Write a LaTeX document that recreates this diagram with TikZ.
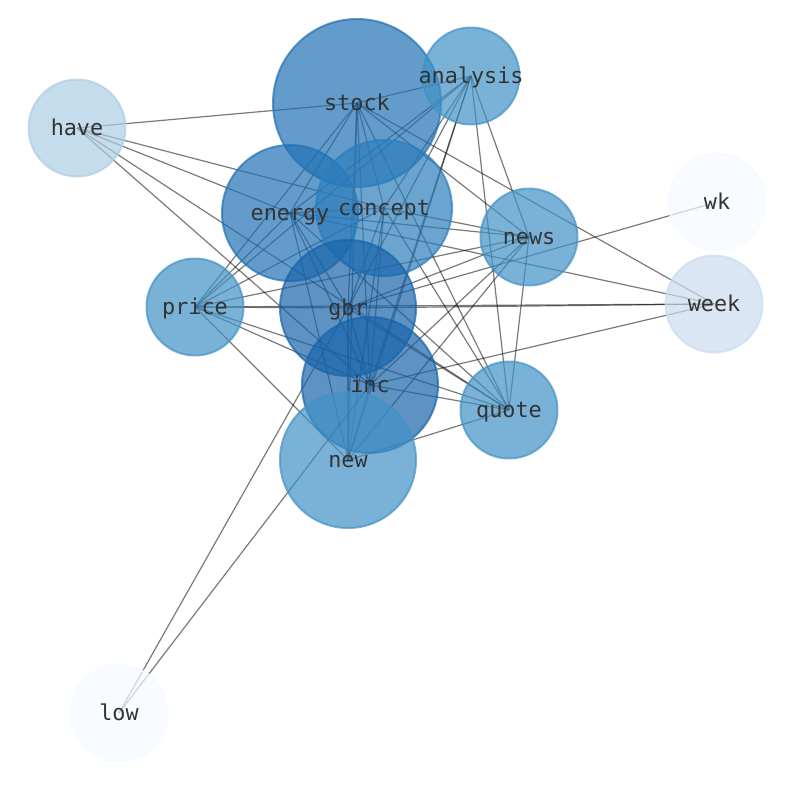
\documentclass[tikz,border=0pt]{standalone}
\usepackage{fontspec}
\setmonofont{DejaVu Sans Mono}
\usepackage{tikz}
\usetikzlibrary{backgrounds}

% Blues, from heavy to faint
\definecolor{bluesTop}{RGB}{24,100,170}
\definecolor{bluesHigh}{RGB}{33,113,181}
\definecolor{bluesMid}{RGB}{45,125,188}
\definecolor{bluesLow}{RGB}{66,146,198}
\definecolor{bluesPale}{RGB}{172,205,228}
\definecolor{bluesFaint}{RGB}{202,219,238}
\definecolor{bluesNone}{RGB}{245,250,255}

\tikzset{
  term/.style={circle, inner sep=0pt, minimum size=#1, line width=2pt,
    fill opacity=0.7, draw opacity=0.7},
  word/.style={font=\ttfamily\fontsize{21.8}{26}\selectfont, text=black!80,
    inner sep=0pt, text height=16pt, text depth=2pt},
  link/.style={draw=black, draw opacity=0.52, line width=1.2pt}
}

\begin{document}
\begin{tikzpicture}[x=1pt, y=-1pt]
  \useasboundingbox (0,0) rectangle (794,790);

  \node[term=168pt, draw=bluesHigh, fill=bluesHigh]   (stock)    at (357,103) {};
  \node[term=97pt,  draw=bluesLow,  fill=bluesLow]    (analysis) at (471,76)  {};
  \node[term=97pt,  draw=bluesPale, fill=bluesPale]   (have)     at (77,128)  {};
  \node[term=136pt, draw=bluesHigh, fill=bluesHigh]   (energy)   at (290,213) {};
  \node[term=136pt, draw=bluesMid,  fill=bluesMid]    (concept)  at (384,208) {};
  \node[term=97pt,  draw=bluesLow,  fill=bluesLow]    (news)     at (529,237) {};
  \node[term=97pt,  draw=bluesNone, fill=bluesNone]   (wk)       at (717,202) {};
  \node[term=97pt,  draw=bluesFaint,fill=bluesFaint]  (week)     at (714,304) {};
  \node[term=97pt,  draw=bluesLow,  fill=bluesLow]    (price)    at (195,307) {};
  \node[term=136pt, draw=bluesTop,  fill=bluesTop]    (gbr)      at (348,308) {};
  \node[term=136pt, draw=bluesTop,  fill=bluesTop]    (inc)      at (370,385) {};
  \node[term=97pt,  draw=bluesLow,  fill=bluesLow]    (quote)    at (509,410) {};
  \node[term=136pt, draw=bluesLow,  fill=bluesLow]    (new)      at (348,460) {};
  \node[term=97pt,  draw=bluesNone, fill=bluesNone]   (low)      at (119,713) {};

  % labels on top of every circle
  \node[word] (stock-txt)    at (stock)    {stock};
  \node[word] (analysis-txt) at (analysis) {analysis};
  \node[word] (have-txt)     at (have)     {have};
  \node[word] (energy-txt)   at (energy)   {energy};
  \node[word] (concept-txt)  at (concept)  {concept};
  \node[word] (news-txt)     at (news)     {news};
  \node[word] (wk-txt)       at (wk)       {wk};
  \node[word] (week-txt)     at (week)     {week};
  \node[word] (price-txt)    at (price)    {price};
  \node[word] (gbr-txt)      at (gbr)      {gbr};
  \node[word] (inc-txt)      at (inc)      {inc};
  \node[word] (quote-txt)    at (quote)    {quote};
  \node[word] (new-txt)      at (new)      {new};
  \node[word] (low-txt)      at (low)      {low};

  \begin{pgfonlayer}{background}
  \path[link] (stock.center) edge (analysis.center) edge (energy.center) edge (concept.center)
    edge (gbr.center) edge (inc.center) edge (new.center) edge (have.center)
    edge (price.center) edge (news.center) edge (quote.center) edge (week.center);
  \path[link] (analysis.center) edge (energy.center) edge (concept.center) edge (gbr.center)
    edge (inc.center) edge (new.center) edge (price.center) edge (news.center) edge (quote.center);
  \path[link] (energy.center) edge (concept.center) edge (gbr.center) edge (inc.center)
    edge (new.center) edge (have.center) edge (price.center) edge (news.center)
    edge (quote.center) edge (week.center);
  \path[link] (concept.center) edge (gbr.center) edge (inc.center) edge (new.center)
    edge (have.center) edge (price.center) edge (news.center) edge (quote.center);
  \path[link] (gbr.center) edge (inc.center) edge (new.center) edge (price.center)
    edge (news.center) edge (quote.center) edge (week.center) edge (wk.center) edge (low.center);
  \path[link] (inc.center) edge (new.center) edge (have.center) edge (price.center)
    edge (news.center) edge (quote.center) edge (week.center) edge (low.center);
  \path[link] (new.center) edge (price.center) edge (news.center) edge (quote.center);
  \path[link] (news.center) edge (price.center) edge (quote.center);
  \path[link] (quote.center) edge (price.center) edge (have.center);
  \path[link] (price.center) edge (week.center);
  \end{pgfonlayer}
\end{tikzpicture}
\end{document}
